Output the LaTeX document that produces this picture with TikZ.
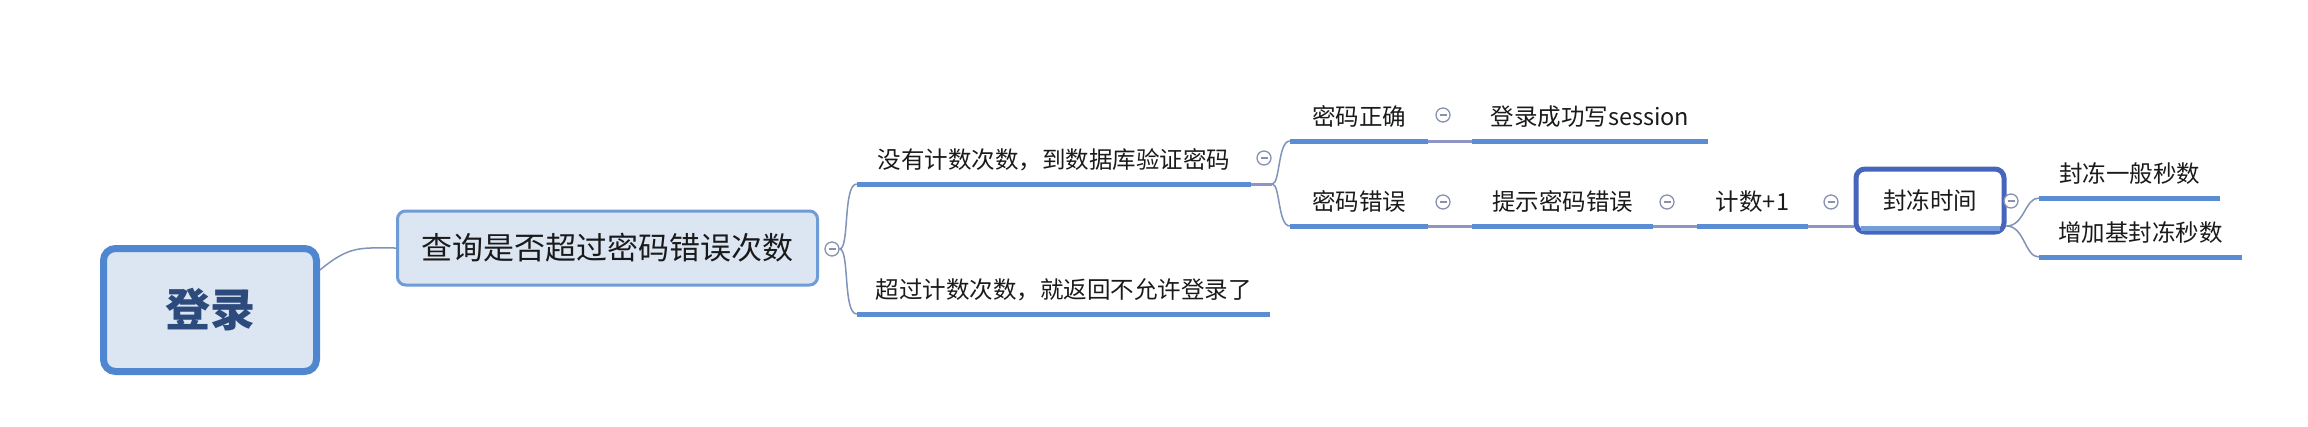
\documentclass[tikz,border=0pt]{standalone}
\usepackage{fontspec}
\setmainfont{Noto Sans CJK SC}
\usepackage{tikz}
\usetikzlibrary{calc}
\definecolor{rootfill}{RGB}{220, 230, 243}
\definecolor{rootdraw}{RGB}{79, 134, 208}
\definecolor{roottext}{RGB}{44, 74, 124}
\definecolor{boxdraw}{RGB}{111, 155, 214}
\definecolor{freezedraw}{RGB}{70, 102, 190}
\definecolor{topicline}{RGB}{90, 141, 212}
\definecolor{branchline}{RGB}{128, 147, 184}
\definecolor{linkline}{RGB}{142, 149, 196}
\definecolor{foldline}{RGB}{136, 146, 176}
\definecolor{textc}{RGB}{26, 26, 26}
\tikzset{
	root/.style={draw=rootdraw, line width=7pt, fill=rootfill, rounded corners=12pt, minimum width=213pt, minimum height=123pt, text=roottext, font=\fontsize{45}{52}\selectfont\bfseries},
	query/.style={draw=boxdraw, line width=3pt, fill=rootfill, rounded corners=8pt, minimum width=420pt, minimum height=74pt, text=textc, font=\fontsize{31}{36}\selectfont},
	freeze/.style={draw=freezedraw, line width=5pt, fill=white, rounded corners=9pt, minimum width=148pt, minimum height=63pt, text=textc, font=\fontsize{23.5}{28}\selectfont},
	topic/.style={anchor=south, inner sep=0pt, text height=20pt, text depth=15pt, text=textc, font=\fontsize{23.5}{28}\selectfont},
	uline/.style={draw=topicline, line width=5pt},
	branch/.style={draw=branchline, line width=1.5pt},
	link/.style={draw=linkline, line width=3pt},
	fold/.style={circle, draw=foldline, line width=1.3pt, fill=white, minimum size=14pt, inner sep=0pt},
}
\newcommand{\foldmark}[2]{% {name}{position}
	\node[fold] (#1) at #2 {};
	\draw[foldline, line width=1.3pt] ([xshift=-3.5pt]#1.center) -- ([xshift=3.5pt]#1.center); % minus
}

\begin{document}
\begin{tikzpicture}[x=1pt, y=-1pt]
	\useasboundingbox (0,0) rectangle (2308,426);

	\node[root] (login) at (210,310) {登录};
	\node[query] (query) at (607.5,248) {查询是否超过密码错误次数};

	\node[topic, minimum width=394pt] (b1) at (1054,184) {没有计数次数，到数据库验证密码};
	\node[topic, minimum width=413pt] (b2) at (1063.5,314) {超过计数次数，就返回不允许登录了};
	\node[topic, minimum width=138pt] (c1) at (1359,141) {密码正确};
	\node[topic, minimum width=138pt] (c2) at (1359,226) {密码错误};
	\node[topic, minimum width=236pt] (d1) at (1590,141) {登录成功写session};
	\node[topic, minimum width=181pt] (d2) at (1562.5,226) {提示密码错误};
	\node[topic, minimum width=111pt] (e) at (1752.5,226) {计数+1};
	\node[freeze] (f) at (1930,200.5) {封冻时间};
	\node[topic, minimum width=181pt] (g1) at (2129.5,198) {封冻一般秒数};
	\node[topic, minimum width=203pt] (g2) at (2140.5,257) {增加基封冻秒数};

	\foreach \t in {b1,b2,c1,c2,d1,d2,e,g1,g2}
		\draw[uline] (\t.south west) -- (\t.south east);
	\draw[draw=topicline!85, line width=5pt] ([xshift=7pt,yshift=6pt]f.south west) -- ([xshift=-7pt,yshift=6pt]f.south east); % stripe

	\foldmark{fq}{(832,249)}
	\foldmark{fb1}{(1264,158)}
	\foldmark{fc1}{(1443,115)}
	\foldmark{fc2}{(1443,202)}
	\foldmark{fd2}{(1667,202)}
	\foldmark{fe}{(1831,202)}
	\foldmark{ff}{(2011,201)}

	\draw[branch] (login.20) .. controls +(30,-25) and +(-35,0) .. (query.west);
	\draw[branch] (fq.east) .. controls +(10,0) and +(-14,0) .. (b1.south west);
	\draw[branch] (fq.east) .. controls +(10,0) and +(-14,0) .. (b2.south west);

	\coordinate (jb1) at ([xshift=21pt]b1.south east);
	\draw[link] (b1.south east) -- (jb1);
	\draw[branch] (jb1) .. controls +(8,0) and +(-12,0) .. (c1.south west);
	\draw[branch] (jb1) .. controls +(8,0) and +(-12,0) .. (c2.south west);

	\draw[link] (c1.south east) -- (d1.south west);
	\draw[link] (c2.south east) -- (d2.south west);
	\draw[link] (d2.south east) -- (e.south west);
	\draw[link] (e.south east) -- (e.south east -| f.west);

	\coordinate (jf) at (f.east |- e.south);
	\draw[branch] (jf) .. controls +(18,0) and +(-14,0) .. (g1.south west);
	\draw[branch] (jf) .. controls +(18,0) and +(-14,0) .. (g2.south west);
\end{tikzpicture}
\end{document}
